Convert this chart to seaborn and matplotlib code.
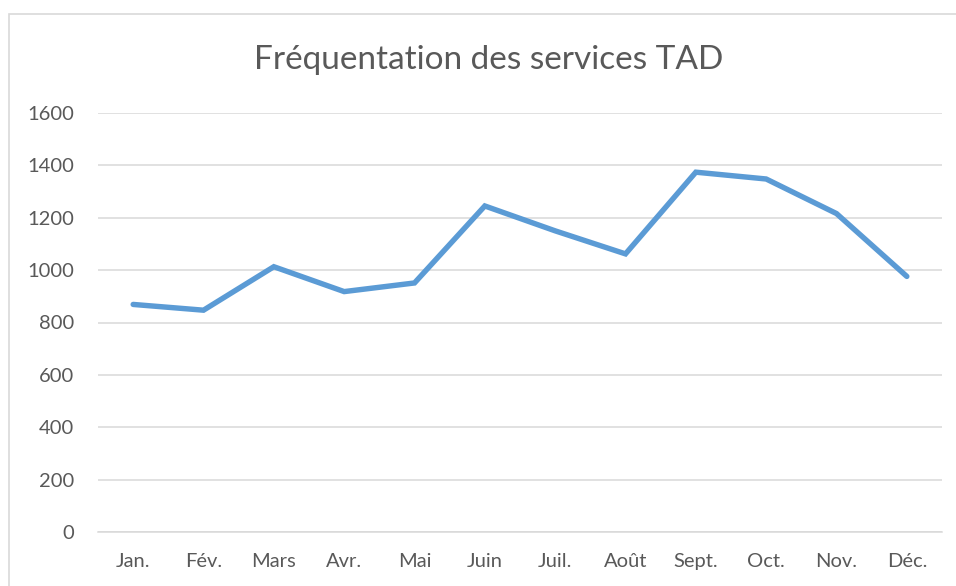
import pandas as pd
import matplotlib.pyplot as plt
import seaborn as sns
from matplotlib.patches import Rectangle

# Monthly ridership
months = ["Jan.", "Fév.", "Mars", "Avr.", "Mai", "Juin",
          "Juil.", "Août", "Sept.", "Oct.", "Nov.", "Déc."]
ridership = [869, 847, 1013, 918, 951, 1245, 1150, 1062, 1374, 1348, 1216, 976]
y_ticks = [0, 200, 400, 600, 800, 1000, 1200, 1400, 1600]

df = pd.DataFrame({"mois": months, "frequentation": ridership})

sns.set_style("white")
plt.rcParams["font.family"] = ["Lato", "DejaVu Sans"]
text_color = "#595959"
grid_color = "#D9D9D9"

fig = plt.figure(figsize=(9.56, 5.86), dpi=100)
ax = fig.add_axes([98 / 956, 1 - 532 / 586, (942 - 98) / 956, (532 - 113) / 586])

sns.lineplot(data=df, x="mois", y="frequentation", ax=ax, sort=False,
             color="#5B9BD5", linewidth=3.9, solid_capstyle="round",
             solid_joinstyle="miter")

ax.set_ylim(0, 1600)
ax.set_xlim(-0.5, len(months) - 0.5)
ax.set_yticks(y_ticks)
ax.yaxis.grid(True, color=grid_color, linewidth=1.1)
ax.set_axisbelow(True)
for side in ["top", "right", "left"]:
    ax.spines[side].set_visible(False)
ax.spines["bottom"].set_color(grid_color)
ax.spines["bottom"].set_linewidth(1.1)
ax.tick_params(axis="both", length=0, labelsize=14.5, colors=text_color)
ax.tick_params(axis="y", pad=17)
ax.tick_params(axis="x", pad=15)
ax.set_xlabel("")
ax.set_ylabel("")

fig.text(489 / 956, 1 - 60 / 586, "Fréquentation des services TAD",
         ha="center", va="center", fontsize=24, color=text_color)

# chart area border (cut at the right and bottom edges)
fig.patches.append(Rectangle((9 / 956, -0.05), 1.2, 1 - 14 / 586 + 0.05,
                             transform=fig.transFigure, fill=False,
                             edgecolor=grid_color, linewidth=1.2))

fig.savefig("out.png", dpi=100)
plt.close(fig)
